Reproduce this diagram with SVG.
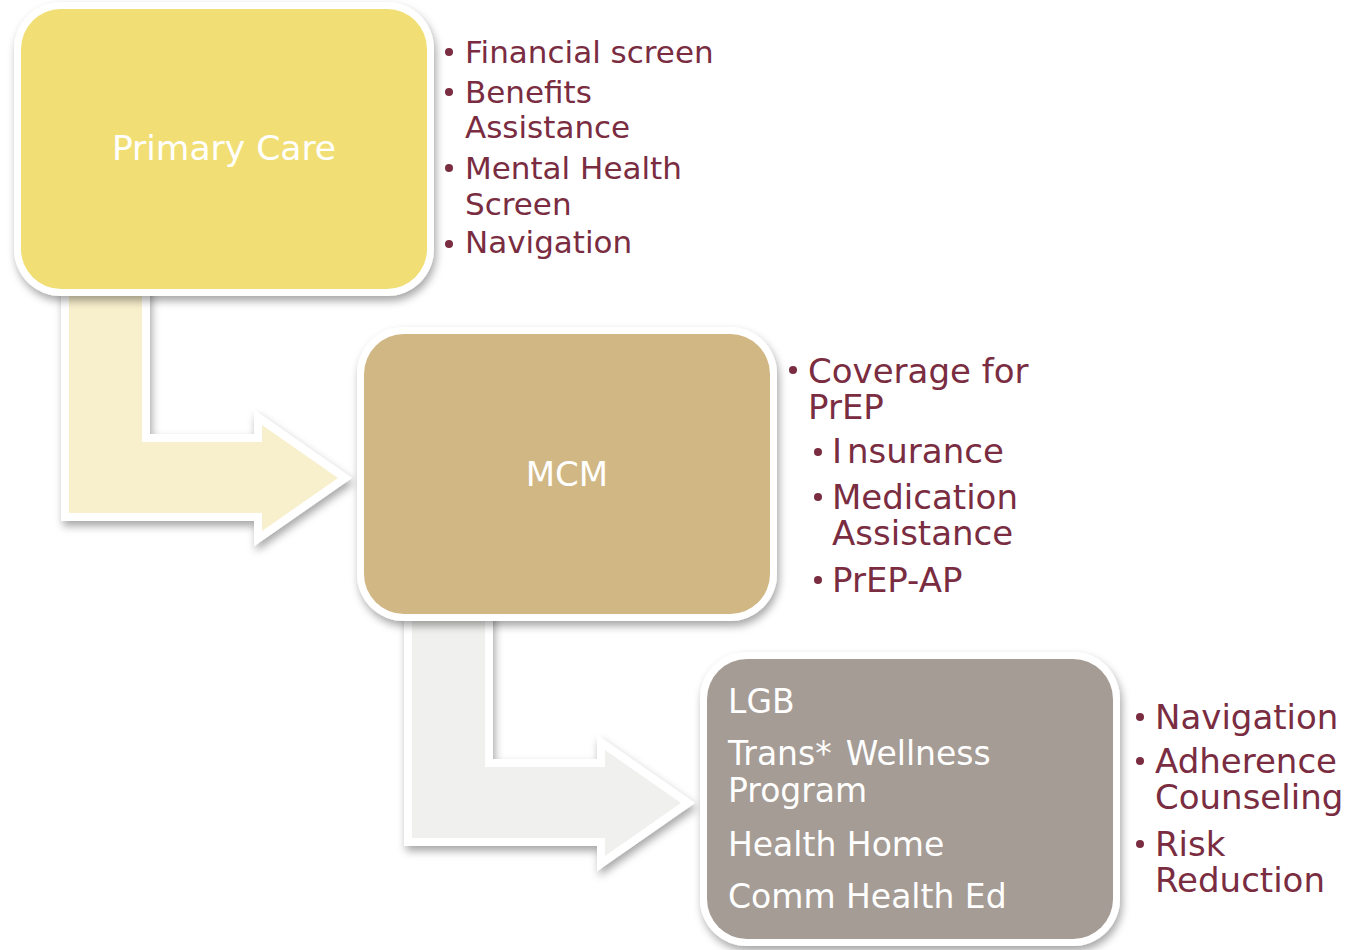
<svg xmlns="http://www.w3.org/2000/svg" width="1347" height="950" viewBox="0 0 1347 950">
  <defs>
    <filter id="shadow" x="-10%" y="-10%" width="125%" height="130%">
      <feDropShadow dx="2" dy="5" stdDeviation="4" flood-color="#000" flood-opacity="0.35"/>
    </filter>
  </defs>
  <style>
    .frame { fill: #ffffff; filter: url(#shadow); }
    .arrow { stroke: #ffffff; stroke-width: 16; stroke-linejoin: miter; paint-order: stroke; filter: url(#shadow); }
    .label { font-family: "DejaVu Sans", Verdana, sans-serif; fill: #ffffff; }
    .item { font-family: "DejaVu Sans", Verdana, sans-serif; fill: #7a2c41; }
    .dot { fill: #7a2c41; }
  </style>
  <rect width="1347" height="950" fill="#ffffff"/>

  <!-- bent arrows leading from one stage to the next -->
  <g id="connectors">
    <polygon class="arrow" fill="#f8efcc" points="69,285 142,285 142,442 262,442 262,425 338,478 262,531 262,513 69,513"/>
    <polygon class="arrow" fill="#f0f0ee" points="412,610 485,610 485,767 605,767 605,750 681,803 605,856 605,838 412,838"/>
  </g>

  <!-- stage 1 -->
  <g id="primary-care">
    <rect class="frame" x="14" y="2" width="420" height="294" rx="47"/>
    <rect x="21" y="9" width="406" height="280" rx="40" fill="#f1df76"/>
    <text class="label" x="224" y="160" font-size="34.5" text-anchor="middle">Primary Care</text>
  </g>
  <g id="primary-care-items" font-size="31">
    <circle class="dot" cx="449" cy="52" r="4"/>
    <text class="item" x="465" y="63">Financial screen</text>
    <circle class="dot" cx="449" cy="92" r="4"/>
    <text class="item" x="465" y="103">Benefits</text>
    <text class="item" x="465" y="138">Assistance</text>
    <circle class="dot" cx="449" cy="168" r="4"/>
    <text class="item" x="465" y="179">Mental Health</text>
    <text class="item" x="465" y="215">Screen</text>
    <circle class="dot" cx="449" cy="244" r="4"/>
    <text class="item" x="465" y="253">Navigation</text>
  </g>

  <!-- stage 2 -->
  <g id="mcm">
    <rect class="frame" x="357" y="327" width="420" height="294" rx="47"/>
    <rect x="364" y="334" width="406" height="280" rx="40" fill="#d0b784"/>
    <text class="label" x="567" y="486" font-size="34" text-anchor="middle">MCM</text>
  </g>
  <g id="mcm-items" font-size="34">
    <circle class="dot" cx="793" cy="370" r="4"/>
    <text class="item" x="808" y="383">Coverage for</text>
    <text class="item" x="808" y="419">PrEP</text>
    <circle class="dot" cx="818" cy="452" r="4"/>
    <text class="item" x="832" y="463">I<tspan dx="5">nsurance</tspan></text>
    <circle class="dot" cx="818" cy="497" r="4"/>
    <text class="item" x="832" y="509">Medication</text>
    <text class="item" x="832" y="545">Assistance</text>
    <circle class="dot" cx="818" cy="580" r="4"/>
    <text class="item" x="832" y="592">PrEP-AP</text>
  </g>

  <!-- stage 3 -->
  <g id="programs">
    <rect class="frame" x="700" y="652" width="420" height="294" rx="47"/>
    <rect x="707" y="659" width="406" height="280" rx="40" fill="#a59c95"/>
    <g class="label" font-size="33">
      <text x="728" y="713">LGB</text>
      <text x="728" y="765">Trans*<tspan dx="14">Wellness</tspan></text>
      <text x="728" y="802">Program</text>
      <text x="728" y="856">Health Home</text>
      <text x="728" y="908">Comm Health Ed</text>
    </g>
  </g>
  <g id="programs-items" font-size="34">
    <circle class="dot" cx="1140" cy="717" r="4"/>
    <text class="item" x="1155" y="729">Navigation</text>
    <circle class="dot" cx="1140" cy="761" r="4"/>
    <text class="item" x="1155" y="773">Adherence</text>
    <text class="item" x="1155" y="809">Counseling</text>
    <circle class="dot" cx="1140" cy="844" r="4"/>
    <text class="item" x="1155" y="856">Risk</text>
    <text class="item" x="1155" y="892">Reduction</text>
  </g>
</svg>
